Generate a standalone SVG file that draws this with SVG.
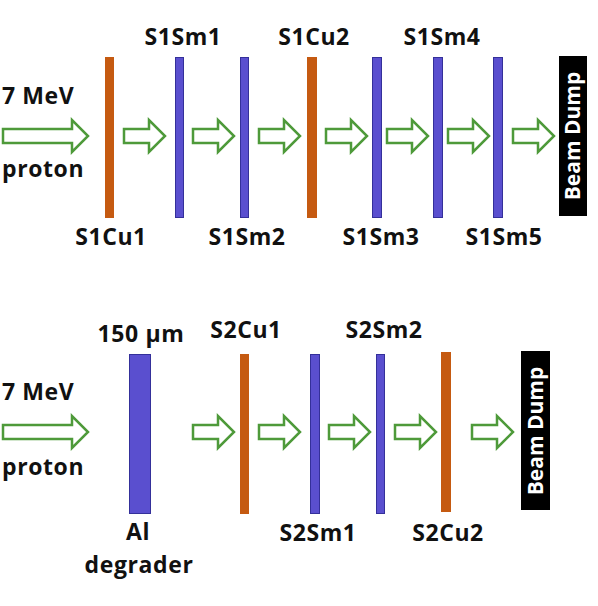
<svg xmlns="http://www.w3.org/2000/svg" width="598" height="606" viewBox="0 0 598 606">
<defs>
<style>
.t{font-family:"Open Sans","Liberation Sans",sans-serif;font-weight:bold;font-size:23px;letter-spacing:0.6px;fill:#111;}
.m{text-anchor:middle;}
.cu{fill:#C55A11;}
.sm{fill:#5A4FCF;stroke:#34309A;stroke-width:1;}
.ar{fill:#fff;stroke:#4E9A3A;stroke-width:2.5;stroke-linejoin:miter;}
.bd{fill:#000;}
.bt{font-family:"Open Sans","Liberation Sans",sans-serif;font-weight:bold;font-size:21px;fill:#fff;text-anchor:middle;}
</style>
<path id="sa" d="M0,-7 H25 V-16 L41,0 L25,16 V7 H0 Z"/>
<path id="la" d="M0,-7 H69 V-16 L85,0 L69,16 V7 H0 Z"/>
</defs>
<g id="connectors">
<use href="#la" class="ar" x="3" y="136"/>
<use href="#sa" class="ar" x="124" y="136"/>
<use href="#sa" class="ar" x="193" y="136"/>
<use href="#sa" class="ar" x="259" y="136"/>
<use href="#sa" class="ar" x="326" y="136"/>
<use href="#sa" class="ar" x="387" y="136"/>
<use href="#sa" class="ar" x="448" y="136"/>
<use href="#sa" class="ar" x="513" y="136"/>
<use href="#la" class="ar" x="3" y="432"/>
<use href="#sa" class="ar" x="193" y="432"/>
<use href="#sa" class="ar" x="259" y="432"/>
<use href="#sa" class="ar" x="329" y="432"/>
<use href="#sa" class="ar" x="395" y="432"/>
<use href="#sa" class="ar" x="472" y="432"/>
</g>
<g id="source1"><text class="t" x="2" y="104">7 MeV</text><text class="t" x="2" y="177">proton</text></g>
<g id="S1Cu1"><rect class="cu" x="105" y="57" width="9" height="161"/><text class="t m" x="111" y="245">S1Cu1</text></g>
<g id="S1Sm1"><rect class="sm" x="175.5" y="57.5" width="8" height="160"/><text class="t m" x="183" y="45">S1Sm1</text></g>
<g id="S1Sm2"><rect class="sm" x="240.5" y="57.5" width="8" height="160"/><text class="t m" x="247" y="245">S1Sm2</text></g>
<g id="S1Cu2"><rect class="cu" x="307" y="57" width="10" height="161"/><text class="t m" x="314" y="45">S1Cu2</text></g>
<g id="S1Sm3"><rect class="sm" x="372.5" y="57.5" width="9" height="160"/><text class="t m" x="381" y="245">S1Sm3</text></g>
<g id="S1Sm4"><rect class="sm" x="433.5" y="57.5" width="9" height="160"/><text class="t m" x="442" y="45">S1Sm4</text></g>
<g id="S1Sm5"><rect class="sm" x="493.5" y="57.5" width="9" height="160"/><text class="t m" x="504" y="245">S1Sm5</text></g>
<g id="dump1"><rect class="bd" x="559" y="56" width="28" height="160"/><text class="bt" transform="translate(580,136) rotate(-90)">Beam Dump</text></g>
<g id="source2"><text class="t" x="2" y="400">7 MeV</text><text class="t" x="2" y="475">proton</text></g>
<g id="Al"><rect class="sm" x="129.5" y="354.5" width="21" height="159"/><text class="t m" x="141" y="342">150 μm</text><text class="t m" x="138" y="540">Al</text><text class="t m" x="139" y="573">degrader</text></g>
<g id="S2Cu1"><rect class="cu" x="240" y="354" width="9" height="160"/><text class="t m" x="246" y="338">S2Cu1</text></g>
<g id="S2Sm1"><rect class="sm" x="310.5" y="354.5" width="9" height="159"/><text class="t m" x="318" y="541">S2Sm1</text></g>
<g id="S2Sm2"><rect class="sm" x="376.5" y="354.5" width="8" height="159"/><text class="t m" x="384" y="338">S2Sm2</text></g>
<g id="S2Cu2"><rect class="cu" x="441" y="352" width="10" height="160"/><text class="t m" x="448" y="541">S2Cu2</text></g>
<g id="dump2"><rect class="bd" x="521" y="351" width="29" height="159"/><text class="bt" transform="translate(543,431) rotate(-90)">Beam Dump</text></g>
</svg>
